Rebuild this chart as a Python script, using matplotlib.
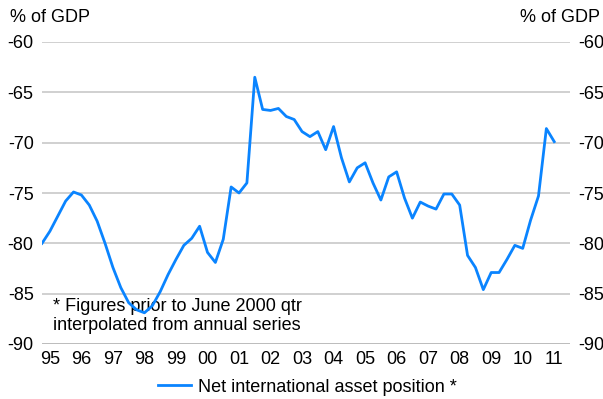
import numpy as np
import matplotlib.pyplot as plt

plt.rcParams['font.family'] = ['Liberation Sans', 'DejaVu Sans']

# quarterly, Mar-1995 to Jun-2011 (% of GDP)
quarters = np.arange(1995.25, 2011.5 + 0.01, 0.25)
net_position = [
    -80.0, -78.8, -77.3, -75.8, -74.9, -75.2, -76.2, -77.8, -80.0, -82.4,
    -84.4, -85.9, -86.6, -86.9, -86.2, -84.8, -83.1, -81.6, -80.2, -79.5,
    -78.3, -80.9, -81.9, -79.6, -74.4, -75.0, -74.0, -63.5, -66.7, -66.8,
    -66.6, -67.4, -67.7, -68.9, -69.4, -68.9, -70.7, -68.4, -71.5, -73.9,
    -72.5, -72.0, -74.0, -75.7, -73.4, -72.9, -75.5, -77.5, -75.9, -76.3,
    -76.6, -75.1, -75.1, -76.2, -81.2, -82.4, -84.6, -82.9, -82.9, -81.6,
    -80.2, -80.5, -77.7, -75.3, -68.6, -69.9,
]
years = list(range(1995, 2012))
year_labels = [f'{y % 100:02d}' for y in years]
yticks = [-90, -85, -80, -75, -70, -65, -60]

fig = plt.figure(figsize=(6.03, 3.99), dpi=100)
ax = fig.add_axes([42 / 603, 1 - 344 / 399, 528 / 603, 302 / 399])

for v in yticks[1:]:
    ax.axhline(v, color='#c8c8c8', lw=1.2, zorder=1)
ax.axhline(-90, color='#b0b0b0', lw=1.2, zorder=1)

line, = ax.plot(quarters, net_position, color='#0a84ff', lw=2.0, zorder=3,
                label='Net international asset position *')

ax.set_xlim(1995.25, 2012.0)
ax.set_ylim(-90, -60)
for s in ax.spines.values():
    s.set_visible(False)

ax.set_xticks([y + 0.5 for y in years])
ax.set_xticklabels(year_labels)
ax.set_yticks(yticks)
ax.set_yticklabels([str(v) for v in yticks])
ax.tick_params(axis='both', length=0, labelsize=13, colors='black')
ax.tick_params(axis='x', pad=5)
ax.tick_params(axis='y', pad=6, labelleft=True, labelright=True)

fig.text(10 / 603, 1 - 17 / 399, '% of GDP', fontsize=13, va='center', ha='left')
fig.text(600 / 603, 1 - 17 / 399, '% of GDP', fontsize=13, va='center', ha='right')

ax.text(1995.6, -85.4, '* Figures prior to June 2000 qtr\ninterpolated from annual series',
        fontsize=13, va='top', ha='left', linespacing=1.15, zorder=2)

fig.legend(handles=[line], loc='center', bbox_to_anchor=(0.5 + 6 / 603, 1 - 387 / 399),
           frameon=False, fontsize=13, handlelength=1.8, handletextpad=0.4)

fig.savefig('out.png', dpi=100)
